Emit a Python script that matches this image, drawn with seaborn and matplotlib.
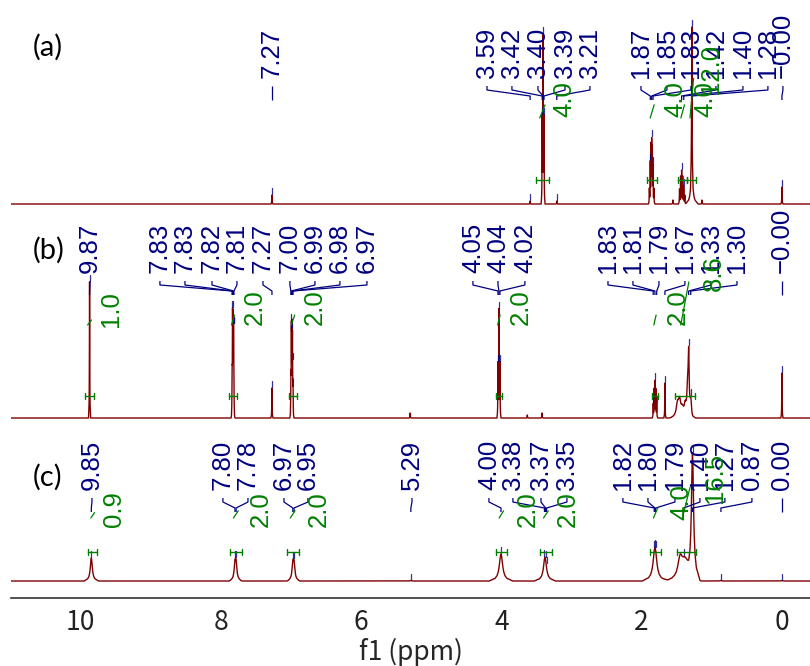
import numpy as np
import pandas as pd
import matplotlib
matplotlib.use("Agg")
import matplotlib.pyplot as plt
import seaborn as sns
from matplotlib.ticker import MultipleLocator

sns.set_style("white")
plt.rcParams['font.family'] = ['Liberation Sans', 'DejaVu Sans']

# ---------------- data: spectrum (a) ----------------
a_ppm = [7.27, 3.59, 3.418, 3.405, 3.392, 3.21,
         1.890, 1.877, 1.866, 1.857, 1.848, 1.838, 1.825,
         1.555, 1.460, 1.445, 1.430, 1.415, 1.400, 1.385,
         1.285, 1.285, 1.14, 0.00]
a_height = [9, 3, 85, 165, 85, 3,
            15, 40, 55, 58, 52, 36, 15,
            4, 15, 28, 34, 28, 18, 9,
            40, 137, 4, 17]
a_labels = ["7.27", "3.59", "3.42", "3.40", "3.39", "3.21",
            "1.87", "1.85", "1.83", "1.42", "1.40", "1.28", "\u22120.00"]
a_label_peak = [7.27, 3.59, 3.418, 3.405, 3.392, 3.21,
                1.877, 1.857, 1.838, 1.430, 1.400, 1.285, 0.00]
a_int_from = [3.51, 1.92, 1.48, 1.35]
a_int_to = [3.32, 1.78, 1.35, 1.22]
a_int_value = [4.0, 4.0, 4.0, 12.0]

# ---------------- data: spectrum (b) ----------------
b_ppm = [9.87, 7.838, 7.832, 7.826, 7.818, 7.812, 7.27,
         7.000, 6.993, 6.985, 6.978, 6.970, 5.30,
         4.048, 4.034, 4.020, 3.63, 3.42,
         1.835, 1.822, 1.810, 1.797, 1.785, 1.668,
         1.49, 1.46, 1.42, 1.38, 1.345, 1.33, 1.30, 0.00]
b_height = [136, 35, 90, 85, 80, 30, 30,
            38, 85, 82, 75, 32, 5,
            55, 108, 55, 3, 5,
            14, 28, 36, 28, 14, 35,
            12, 16, 8, 12, 25, 58, 15, 45]
b_labels = ["9.87", "7.83", "7.83", "7.82", "7.81", "7.27", "7.00", "6.99",
            "6.98", "6.97", "4.05", "4.04", "4.02", "1.83", "1.81", "1.79",
            "1.67", "1.33", "1.30", "\u22120.00"]
b_label_peak = [9.87, 7.838, 7.832, 7.818, 7.812, 7.27, 7.000, 6.993,
                6.978, 6.970, 4.048, 4.034, 4.020, 1.835, 1.810, 1.785,
                1.668, 1.33, 1.30, 0.00]
b_int_from = [9.94, 7.88, 7.03, 4.08, 1.85, 1.53]
b_int_to = [9.80, 7.77, 6.91, 3.99, 1.77, 1.24]
b_int_value = [1.0, 2.0, 2.0, 2.0, 2.0, 8.6]

# ---------------- data: spectrum (c) ----------------
c_ppm = [9.845, 7.797, 7.781, 6.972, 6.955, 5.29, 4.005, 3.378,
         1.81, 1.45, 1.385, 1.275, 0.87, 0.00]
c_height = [23, 15, 15, 15, 15, 0.5, 27, 24,
            34, 22, 18, 125, 0.5, 0.5]
c_labels = ["9.85", "7.80", "7.78", "6.97", "6.95", "5.29", "4.00", "3.38",
            "3.37", "3.35", "1.82", "1.80", "1.79", "1.40", "1.27", "0.87", "0.00"]
c_label_peak = [9.845, 7.797, 7.781, 6.972, 6.955, 5.29, 4.005, 3.385,
                3.370, 3.355, 1.82, 1.81, 1.80, 1.40, 1.275, 0.87, 0.00]
c_int_from = [9.89, 7.87, 7.06, 4.08, 3.45, 1.88, 1.50]
c_int_to = [9.76, 7.70, 6.89, 3.92, 3.28, 1.72, 1.23]
c_int_value = [0.9, 2.0, 2.0, 2.0, 2.0, 4.0, 16.5]

tick_values = [0, 2, 4, 6, 8, 10]

# ---------------- styles / layout ----------------
NARROW = 0.0025
a_width = [NARROW] * 20 + [0.015, 0.003, NARROW, NARROW]
b_width = [NARROW] * 24 + [0.02, 0.02, 0.02, 0.015, 0.012, 0.008, 0.012, NARROW]
c_width = [0.017, 0.014, 0.014, 0.014, 0.014, 0.01, 0.028, 0.025,
           0.03, 0.04, 0.04, 0.018, 0.01, 0.01]

# label x positions (ppm) chosen to avoid overlap, as in the reference
a_label_x = [7.270, 4.205, 3.849, 3.478, 3.093, 2.737,
             2.010, 1.639, 1.297, 0.941, 0.556, 0.200, -0.014]
b_label_x = [9.865, 8.867, 8.510, 8.125, 7.769, 7.398, 7.014, 6.657,
             6.301, 5.916, 4.405, 4.048, 3.664, 2.480, 2.124, 1.753,
             1.383, 1.012, 0.641, 0.000]
c_label_x = [9.836, 7.969, 7.612, 7.099, 6.757, 5.274, 4.177, 3.835,
             3.435, 3.065, 2.267, 1.910, 1.525, 1.169, 0.813, 0.428, 0.000]
a_int_label_x = [3.108, 1.525, 1.098, 1.012]
b_int_label_x = [9.565, 7.512, 6.657, 3.721, 1.483, 0.969]
c_int_label_x = [9.522, 7.427, 6.600, 3.621, 3.051, 1.440, 0.955]

panels = [
    dict(ppm=a_ppm, h=a_height, w=a_width, labels=a_labels, lpeak=a_label_peak,
         lx=a_label_x, ifrom=a_int_from, ito=a_int_to, ival=a_int_value,
         ilx=a_int_label_x, base=204, lab_bottom=78,
         ilab_bottom=[117, 117, 117, 94], hbar=180, icurve=118, ik=3.3, ic=0.0,
         letter="(a)", letter_xy=(48, 47)),
    dict(ppm=b_ppm, h=b_height, w=b_width, labels=b_labels, lpeak=b_label_peak,
         lx=b_label_x, ifrom=b_int_from, ito=b_int_to, ival=b_int_value,
         ilx=b_int_label_x, base=418, lab_bottom=273,
         ilab_bottom=[327, 325, 325, 325, 325, 291], hbar=396, icurve=325, ik=5.0, ic=0.0,
         letter="(b)", letter_xy=(49, 250)),
    dict(ppm=c_ppm, h=c_height, w=c_width, labels=c_labels, lpeak=c_label_peak,
         lx=c_label_x, ifrom=c_int_from, ito=c_int_to, ival=c_int_value,
         ilx=c_int_label_x, base=581, lab_bottom=490,
         ilab_bottom=[527, 527, 527, 527, 527, 520, 503], hbar=552, icurve=518, ik=1.6, ic=4.0,
         letter="(c)", letter_xy=(48, 477)),
]

MAROON = "#800000"
NAVY = "#000080"
GREEN = "#008000"
LABEL_FONT = ["Liberation Sans", "DejaVu Sans"]
AXIS_FONT = ["Noto Sans CJK JP", "DejaVu Sans"]
TPL_U = np.array([-6, -3, -2, -1.4, -1, -0.6, -0.3, 0, 0.3, 0.6, 1, 1.4, 2, 3, 6])
TPL_F = np.array([0.0, 0.1, 0.2, 0.34, 0.5, 0.74, 0.92, 1.0, 0.92, 0.74, 0.5, 0.34, 0.2, 0.1, 0.0])

W_PX, H_PX = 810, 666
AXB = 598          # pixel row of the ppm axis
XMAX, XMIN = 10.99, -0.40


def Y(px):
    return AXB - px


def spectrum(ppm, h, w):
    xs = [XMAX, XMIN]
    for p, ww in zip(ppm, w):
        xs.extend(p + TPL_U * ww)
    xs = np.unique(np.array(xs))[::-1]
    ys = np.zeros_like(xs)
    for p, hh, ww in zip(ppm, h, w):
        ys += np.interp(xs, p + TPL_U * ww, hh * TPL_F, left=0, right=0)
    return xs, ys


fig = plt.figure(figsize=(W_PX / 100, H_PX / 100), dpi=100)
ax = fig.add_axes([11 / W_PX, (H_PX - AXB) / H_PX, (W_PX - 11) / W_PX, AXB / H_PX])

for P in panels:
    xs, ys = spectrum(P["ppm"], P["h"], P["w"])
    df = pd.DataFrame({"ppm": xs, "y": ys + Y(P["base"])})
    sns.lineplot(data=df, x="ppm", y="y", sort=False, estimator=None,
                 color=MAROON, lw=1.0, ax=ax, legend=False)

    lb = P["lab_bottom"]
    for s, pk, lx in zip(P["labels"], P["lpeak"], P["lx"]):
        ax.text(lx, Y(lb), s, rotation=90, ha="center", va="bottom",
                color=NAVY, fontsize=18.5, family=LABEL_FONT)
        ax.plot([lx, lx, pk, pk], [Y(lb + 8), Y(lb + 12), Y(lb + 18), Y(lb + 22)],
                color=NAVY, lw=0.9, solid_capstyle="butt")
        # peak top marker
        probe = np.array([pk - 0.006, pk - 0.003, pk, pk + 0.003, pk + 0.006])
        top = np.interp(probe[::-1], xs[::-1], ys[::-1]).max()
        ax.plot([pk, pk], [Y(P["base"]) + top + 1, Y(P["base"]) + top + 7],
                color=NAVY, lw=0.9, alpha=0.8)

    for f, t, v, ilx, ib in zip(P["ifrom"], P["ito"], P["ival"], P["ilx"], P["ilab_bottom"]):
        # H bar
        ax.plot([f, t], [Y(P["hbar"])] * 2, color=GREEN, lw=1.0)
        for e in (f, t):
            ax.plot([e, e], [Y(P["hbar"]) - 3, Y(P["hbar"]) + 3], color=GREEN, lw=1.0)
        # integral curve
        rise = P["ik"] * v + P["ic"]
        x0 = f + (t - f) * 0.3
        x1 = f + (t - f) * 0.7
        ax.plot([x0, (x0 + x1) / 2, x1],
                [Y(P["icurve"]), Y(P["icurve"]) + rise * 0.5, Y(P["icurve"]) + rise],
                color=GREEN, lw=0.9)
        ax.text(ilx, Y(ib), f"{v:.1f}", rotation=90, ha="center", va="bottom",
                color=GREEN, fontsize=18.5, family=LABEL_FONT)

    fig.text(P["letter_xy"][0] / W_PX, 1 - P["letter_xy"][1] / H_PX, P["letter"],
             ha="center", va="center", fontsize=21, family=["Lato", "DejaVu Sans"],
             color="black")

ax.set_xlim(XMAX, XMIN)
ax.set_ylim(0, AXB)
for side in ("left", "right", "top"):
    ax.spines[side].set_visible(False)
ax.spines["bottom"].set_color("#333333")
ax.spines["bottom"].set_linewidth(1.2)
ax.set_yticks([])
ax.set_ylabel("")
ax.set_xticks(tick_values)
ax.set_xticklabels([str(v) for v in tick_values])
ax.xaxis.set_minor_locator(MultipleLocator(0.5))
ax.tick_params(axis="x", which="major", direction="out", length=6, width=1.0,
               labelsize=19, pad=2, colors="#222222")
ax.tick_params(axis="x", which="minor", direction="out", length=4, width=1.0,
               colors="#333333")
for lab in ax.get_xticklabels():
    lab.set_family(AXIS_FONT)
ax.set_xlabel("f1 (ppm)", fontsize=19, family=AXIS_FONT, labelpad=1)

fig.savefig("out.png", dpi=100)
